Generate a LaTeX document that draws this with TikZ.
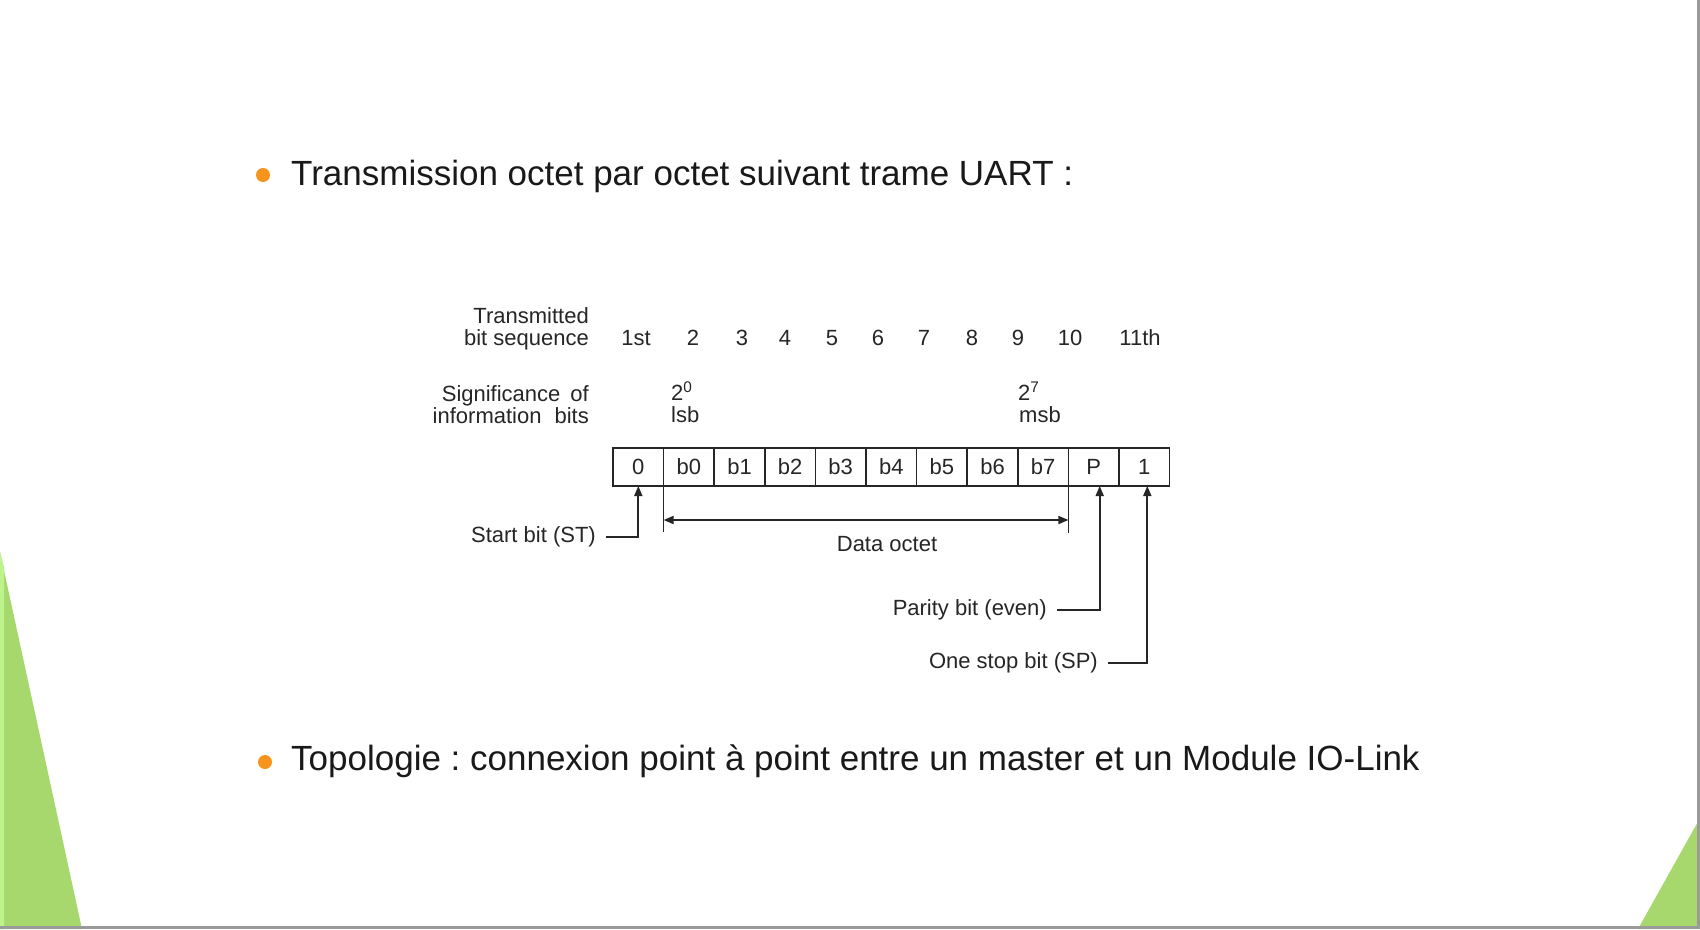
\documentclass[tikz,border=0pt]{standalone}
\usepackage{fontspec}
\setmainfont{Liberation Sans}
\usetikzlibrary{arrows.meta,calc}
\definecolor{bulorange}{HTML}{F7941D}
\definecolor{slidegreen}{HTML}{A6D86E}
\definecolor{lightgreen}{HTML}{BDF38A}
\definecolor{ink}{HTML}{262626}
\definecolor{frame}{HTML}{9A9A9A}
\frenchspacing
\begin{document}
\begin{tikzpicture}[x=1pt,y=-1pt,
  cell/.style={draw=ink, line width=1.6pt, minimum width=50.6pt, minimum height=38pt, inner sep=0pt, outer sep=0pt, font=\fontsize{22}{23}\selectfont, text=ink},
  dtxt/.style={inner sep=0pt, font=\fontsize{22}{23}\selectfont, text=ink},
  lbl/.style={inner xsep=10pt, inner ysep=0pt, anchor=east, font=\fontsize{22}{23}\selectfont, text=ink},
  conn/.style={draw=ink, line width=1.8pt, -{Triangle[length=10pt,width=8pt]}},
  guide/.style={draw=ink, line width=1.6pt},
  dbl/.style={draw=ink, line width=1.8pt, {Triangle[length=10pt,width=8pt]}-{Triangle[length=10pt,width=8pt]}},
  bigtxt/.style={inner sep=0pt, anchor=base west, font=\fontsize{35}{42}\selectfont, text=black!90},
  bullet/.style={circle, fill=bulorange, minimum size=14pt, inner sep=0pt}
]
\useasboundingbox (0,0) rectangle (1700,929);
\fill[white] (0,0) rectangle (1700,929);

% slide decorations
\fill[slidegreen] (0,552) -- (82,929) -- (0,929) -- cycle;
\fill[lightgreen] (0,552) -- (4,567) -- (4,929) -- (0,929) -- cycle;
\fill[slidegreen] (1700,818) -- (1700,929) -- (1638,929) -- cycle;
\draw[frame, line width=3pt] (1698.5,0) -- (1698.5,929);
\draw[frame, line width=3pt] (0,927.5) -- (1700,927.5);

% bullet lines
\node[bullet] (b1) at (263,175) {};
\node[bigtxt] (t1) at (291,185) {Transmission octet par octet suivant trame UART :};
\node[bullet] (b2) at (265,762) {};
\node[bigtxt] (t2) at (291,770) {Topologie : connexion point à point entre un master et un Module IO-Link};

% frame cells
\foreach \i/\t in {0/0,1/b0,2/b1,3/b2,4/b3,5/b4,6/b5,7/b6,8/b7,9/P,10/1}
  \node[cell] (c\i) at ({638.3+50.6*\i},467) {\t};

% headings
\node[dtxt, anchor=base east] (tr1) at (589,323) {Transmitted};
\node[dtxt, anchor=base east] (tr2) at (589,345) {bit sequence};
\node[dtxt, anchor=base east] (si1) at (589,401) {Significance\hspace{10pt}of};
\node[dtxt, anchor=base east] (si2) at (589,423) {information\hspace{13pt}bits};

% bit sequence numbers
\foreach \x/\t/\n in {636/1st/n0,693/2/n1,742/3/n2,785/4/n3,832/5/n4,878/6/n5,924/7/n6,972/8/n7,1018/9/n8,1070/10/n9,1140/11th/n10}
  \node[dtxt, anchor=base] (\n) at (\x,345) {\t};

% significance
\node[dtxt, anchor=base west] (p0) at (671,400) {2\textsuperscript{0}};
\node[dtxt, anchor=base west] (lsb) at (671,422) {lsb};
\node[dtxt, anchor=base west] (p7) at (1018,400) {2\textsuperscript{7}};
\node[dtxt, anchor=base west] (msb) at (1019,422) {msb};

% data octet
\draw[guide] (c1.south west) -- ++(0,46);
\draw[guide] (c8.south east) -- ++(0,47);
\draw[dbl] ($(c1.south west)+(0,34)$) -- ($(c8.south east)+(0,34)$);
\node[dtxt] (dat) at (887,544) {Data octet};

% labelled pointers
\node[lbl] (st) at (606,537) {Start bit (ST)};
\draw[conn] (st.east) -| (c0.south);
\node[lbl] (par) at (1057,610) {Parity bit (even)};
\draw[conn] (par.east) -| ([xshift=6pt]c9.south);
\node[lbl] (sp) at (1108,663) {One stop bit (SP)};
\draw[conn] (sp.east) -| ([xshift=3pt]c10.south);
\end{tikzpicture}
\end{document}
